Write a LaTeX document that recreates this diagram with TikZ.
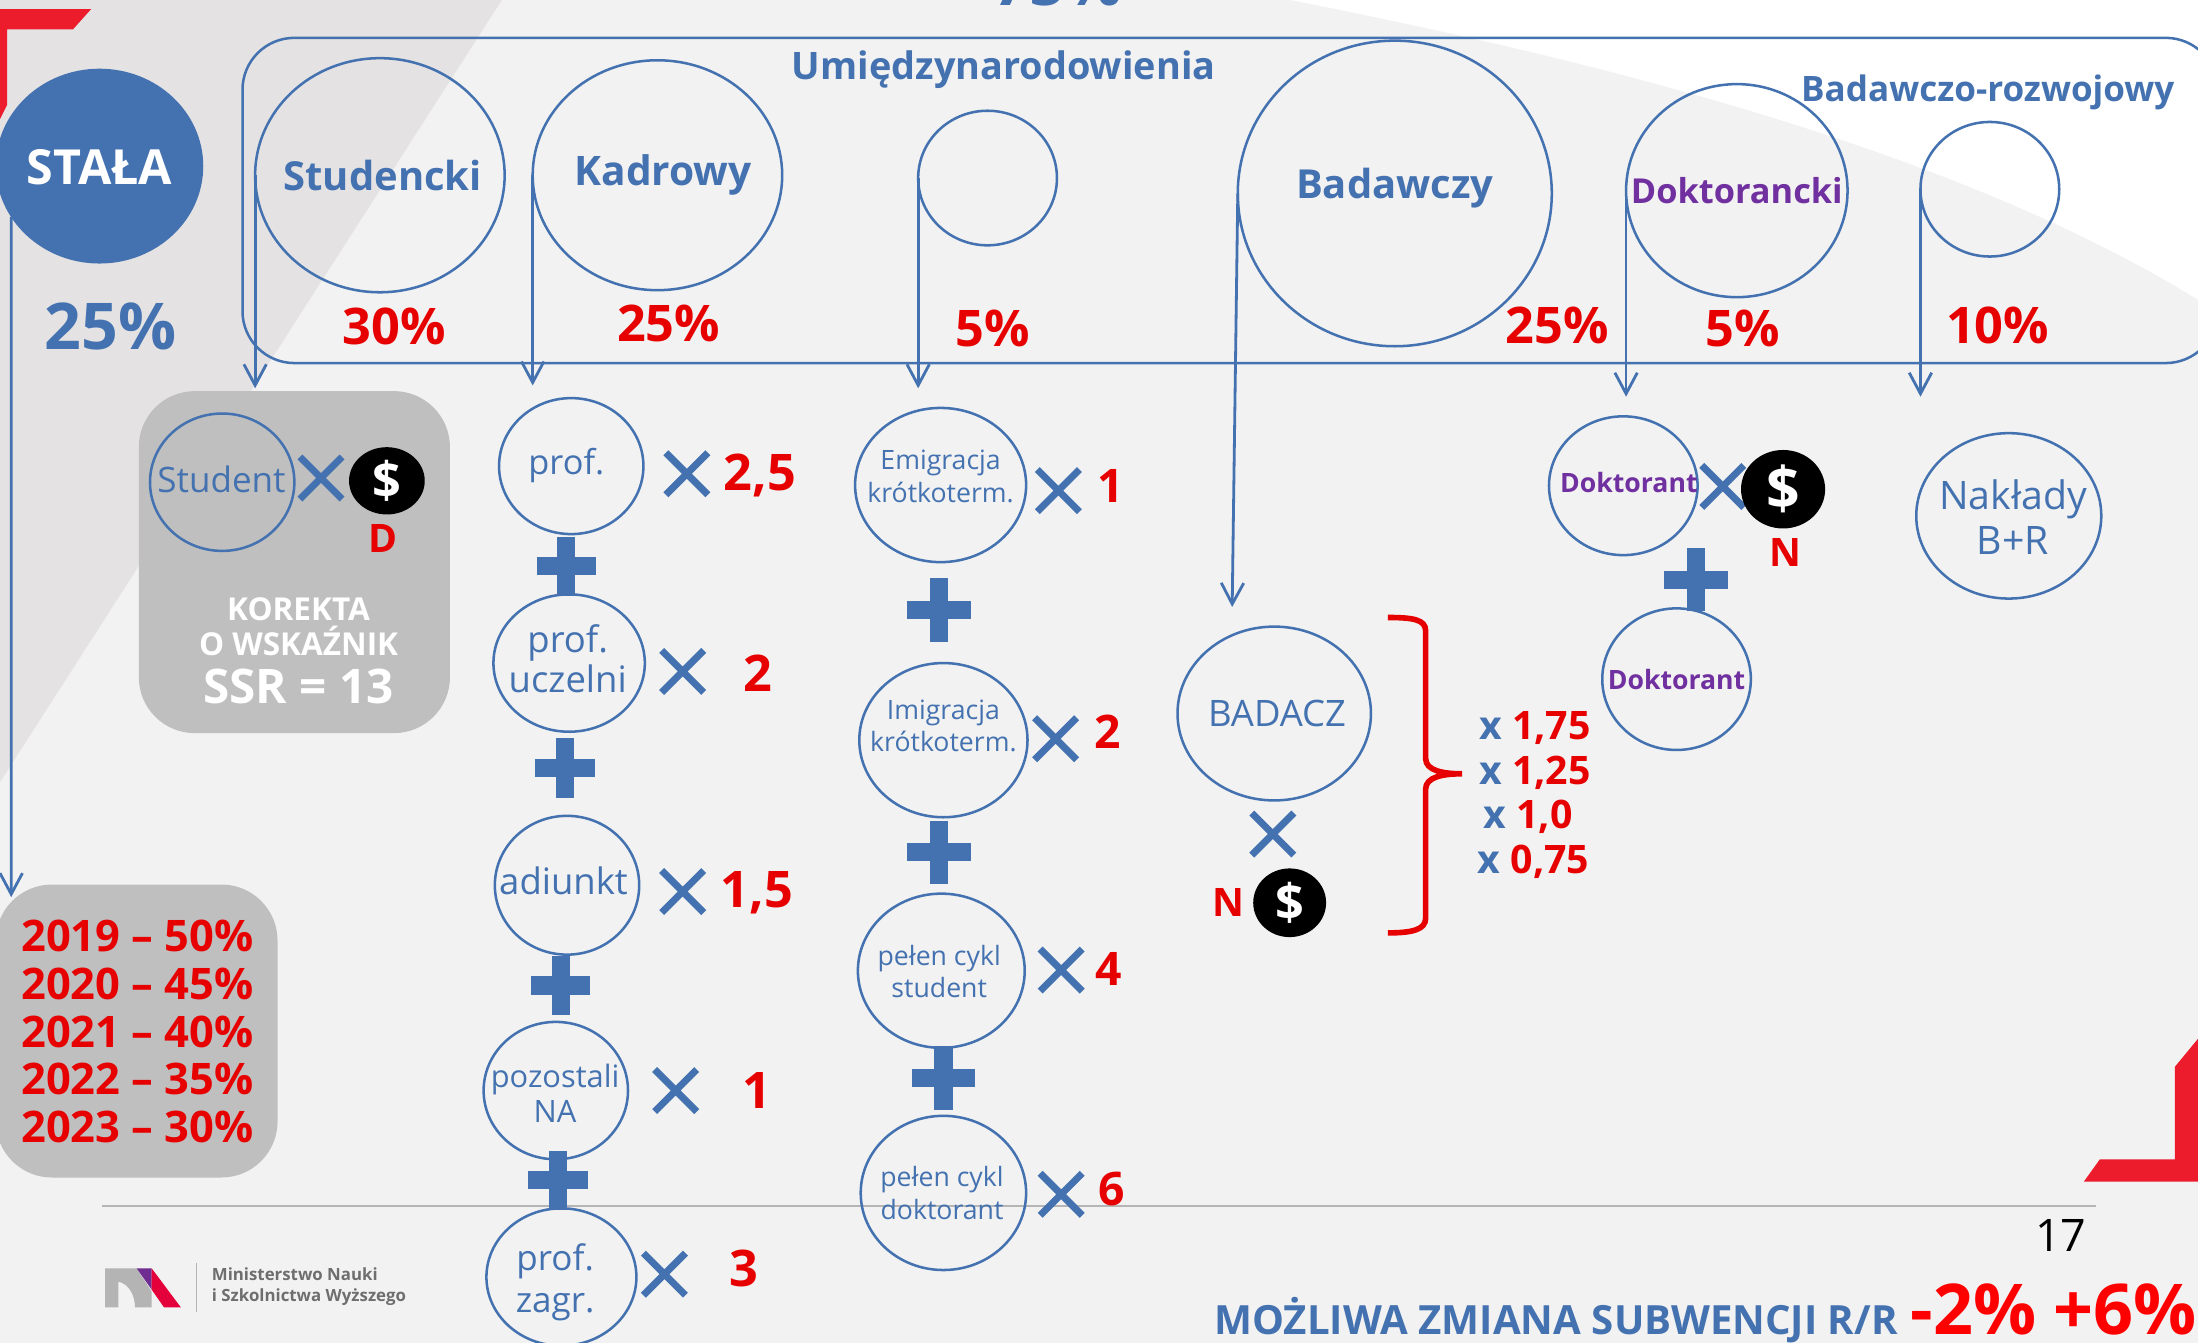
\documentclass[tikz,border=0pt]{standalone}
\usepackage{fontspec}
\setmainfont{Open Sans}
\usetikzlibrary{arrows.meta,shapes.geometric,shapes.misc}
\definecolor{brandblue}{HTML}{4472B0}
\definecolor{brandpurple}{HTML}{7030A0}
\definecolor{markred}{HTML}{E60000}
\definecolor{cornerred}{HTML}{EC1C2C}
\definecolor{pagegrey}{HTML}{F2F2F2}
\definecolor{bandgrey}{HTML}{E4E2E3}
\definecolor{boxgrey}{HTML}{BFBFBF}
\definecolor{rulegrey}{HTML}{B5B5B5}
\definecolor{logogrey}{HTML}{B4B4B4}
\definecolor{logotext}{HTML}{6E6E6E}
\definecolor{logopurple}{HTML}{6F2C91}
\definecolor{logored}{HTML}{E4003A}

\begin{document}
\begin{tikzpicture}[x=1pt,y=-1pt]
  % Styles
  \tikzset{
    ring/.style={draw=brandblue, line width=1.8pt, ellipse, inner sep=0pt, outer sep=0pt},
    framebox/.style={draw=brandblue, line width=1.8pt, rounded corners=37pt},
    greybox/.style={fill=boxgrey, rounded corners=40pt},
    coin/.style={ellipse, fill=black, text=white, inner sep=0pt, font=\fontsize{#1}{#1}\selectfont\bfseries},
    thintext/.style={text=brandblue, align=center, inner sep=0pt, font=\fontsize{#1}{#1}\selectfont},
    head/.style={text=brandblue, align=center, inner sep=0pt, font=\fontsize{#1}{#1}\selectfont\bfseries},
    redtext/.style={text=markred, align=center, inner sep=0pt, font=\fontsize{#1}{#1}\selectfont\bfseries},
    purpletext/.style={text=brandpurple, inner sep=0pt, font=\fontsize{#1}{#1}\selectfont\bfseries},
    whitetext/.style={text=white, align=center, inner sep=0pt, font=\fontsize{#1}{#1}\selectfont\bfseries},
    timesmark/.style={cross out, draw=brandblue, line width=5pt, minimum size=30pt, inner sep=0pt, outer sep=0pt},
    plusmark/.style={cross out, rotate=45, draw=brandblue, line width=13pt, minimum size=30pt, inner sep=0pt, outer sep=0pt},
    line/.style={-{Straight Barb[length=15pt,width=16pt]}, line width=2pt, draw=brandblue},
  }
  \useasboundingbox (0,0) rectangle (1568,958);

  % Background
  \fill[white] (0,0) rectangle (1568,958);
  \fill[pagegrey] (0,0) -- (920,0) .. controls (1150,45) and (1400,110) .. (1568,214) -- (1568,958) -- (0,958) -- cycle;
  \fill[bandgrey] (0,0) -- (358,0) -- (0,558) -- cycle;
  \fill[cornerred] (0,6.5) -- (65,6.5) -- (52,21) -- (5,21) -- (5,75) -- (0,85) -- cycle;
  \fill[cornerred] (1568,741) -- (1551.5,761) -- (1551.5,827) -- (1498,827) -- (1486.5,843) -- (1568,843) -- cycle;
  \draw[rulegrey, line width=1.5pt] (73,860.5) -- (1495,860.5);

  % Logo
  \fill[logogrey] (75,904.8) -- (97.5,904.8) -- (108.2,921.4) -- (108.2,932.6) -- (96.3,932.6) .. controls (96.3,924) and (92,916) .. (84.5,914.3) -- (84.5,932.6) -- (75,932.6) -- cycle;
  \fill[logopurple] (97.5,904.8) -- (108.2,904.8) -- (108.2,920) -- cycle;
  \fill[logored] (108.2,904.8) -- (129,932.6) -- (117,932.6) -- (108.2,920) -- cycle;
  \draw[logogrey, line width=0.7pt] (140,901) -- (140,936);
  \node[anchor=west, inner sep=0pt, align=left, text=logotext, font=\fontsize{12}{15}\selectfont\bfseries] (ministry) at (151,917.5) {Ministerstwo Nauki\\i Szkolnictwa Wyższego};

  % Top row
  \node[framebox, minimum width=1409pt, minimum height=232pt] (frame) at (877.5,143) {};
  \node[head=45, anchor=base] (total) at (755,4) {75\%};
  \node[ellipse, fill=brandblue, minimum width=148pt, minimum height=139pt, inner sep=0pt, outer sep=0pt] (stala) at (71,118.5) {};
  \node[whitetext=34.5] (stalatxt) at (71,119) {STAŁA};
  \node[head=46] (stalapct) at (79,233) {25\%};
  \node[ring, minimum width=178pt, minimum height=167pt] (stud) at (271,125) {};
  \node[ring, minimum width=178pt, minimum height=164pt] (kad) at (469,125) {};
  \node[ring, minimum width=99pt, minimum height=96pt] (intl) at (704.5,127) {};
  \node[ring, minimum width=224pt, minimum height=218pt] (bad) at (995,138) {};
  \node[ring, minimum width=158pt, minimum height=152pt] (dokt) at (1239,136) {};
  \node[ring, minimum width=99pt, minimum height=96pt] (rnd) at (1419.5,135) {};
  \node[head=28.5] (studtxt) at (273,125) {Studencki};
  \node[head=29] (kadtxt) at (473,125) {Kadrowy};
  \node[head=28.5] (badtxt) at (995,134) {Badawczy};
  \node[purpletext=24.5] (dokttxt) at (1239,136) {Doktorancki};
  \node[head=27] (intltxt) at (716,50) {Umiędzynarodowienia};
  \node[head=25] (rndtxt) at (1418,66) {Badawczo-rozwojowy};
  \node[redtext=36] (pctstud) at (281,233) {30\%};
  \node[redtext=36] (pctkad) at (477,231) {25\%};
  \node[redtext=36] (pctintl) at (708,234) {5\%};
  \node[redtext=36] (pctbad) at (1111,232) {25\%};
  \node[redtext=36] (pctdokt) at (1243,234) {5\%};
  \node[redtext=36] (pctrnd) at (1425,232) {10\%};

  % Student box
  \node[greybox, minimum width=222pt, minimum height=244pt] (korekta) at (210,401) {};
  \node[ring, minimum width=103pt, minimum height=98pt] (student) at (158.5,344) {};
  \node[thintext=25] (studenttxt) at (158,342) {Student};
  \node[timesmark] (xstudent) at (229,341) {};
  \node[coin=36, minimum width=54pt, minimum height=48pt] (coind) at (276,343) {\$};
  \node[redtext=28] (letterd) at (273,384) {D};
  \node[whitetext=22.5] (korektatxt) at (213,447) {KOREKTA\\[2.5pt]O WSKAŹNIK};
  \node[whitetext=34] (ssr) at (213,490) {SSR = 13};

  % Years box
  \node[greybox, minimum width=201pt, minimum height=209pt] (years) at (97.5,735.5) {};
  \node[redtext=31, anchor=west, align=left] (yearstxt) at (15,736) {2019 – 50\%\\[3pt]2020 – 45\%\\[3pt]2021 – 40\%\\[3pt]2022 – 35\%\\[3pt]2023 – 30\%};

  % Staff column
  \node[ring, minimum width=103pt, minimum height=97pt] (prof) at (407.5,332.5) {};
  \node[ring, minimum width=108pt, minimum height=98pt] (profu) at (406,473) {};
  \node[ring, minimum width=103pt, minimum height=99pt] (adi) at (404.5,631.5) {};
  \node[ring, minimum width=103pt, minimum height=98pt] (rest) at (396.5,778) {};
  \node[ring, minimum width=107pt, minimum height=98pt] (profz) at (400.5,911) {};
  \node[thintext=24.5] (proftxt) at (404,332) {prof.};
  \node[thintext=26] (profutxt) at (405,470) {prof.\\[2pt]uczelni};
  \node[thintext=26] (aditxt) at (402,628) {adiunkt};
  \node[thintext=22] (resttxt) at (396,780) {pozostali\\[3pt]NA};
  \node[thintext=25] (profztxt) at (396,915) {prof.\\[5pt]zagr.};
  \node[plusmark] (plus1) at (404,404) {};
  \node[plusmark] (plus2) at (403,548) {};
  \node[plusmark] (plus3) at (400,703) {};
  \node[plusmark] (plus4) at (398,842) {};
  \node[timesmark] (xprof) at (490,338) {};
  \node[timesmark] (xprofu) at (487,479) {};
  \node[timesmark] (xadi) at (487,636) {};
  \node[timesmark] (xrest) at (482,778) {};
  \node[timesmark] (xprofz) at (474,909) {};
  \node[redtext=36] (wprof) at (542,339) {2,5};
  \node[redtext=36] (wprofu) at (541,480) {2};
  \node[redtext=36] (wadi) at (540,637) {1,5};
  \node[redtext=36] (wrest) at (540,778) {1};
  \node[redtext=36] (wprofz) at (531,905) {3};

  % Exchange column
  \node[ring, minimum width=122pt, minimum height=110pt] (emig) at (671,346) {};
  \node[ring, minimum width=120pt, minimum height=110pt] (imig) at (673,528) {};
  \node[ring, minimum width=119pt, minimum height=110pt] (cyclestud) at (671.5,692.5) {};
  \node[ring, minimum width=118pt, minimum height=110pt] (cycledok) at (673,851) {};
  \node[thintext=19] (emigtxt) at (671,340) {Emigracja\\[3.5pt]krótkoterm.};
  \node[thintext=19] (imigtxt) at (673,518) {Imigracja\\[3pt]krótkoterm.};
  \node[thintext=19] (cyclestudtxt) at (670,693) {pełen cykl\\[4pt]student};
  \node[thintext=19] (cycledoktxt) at (672,851) {pełen cykl\\[4pt]doktorant};
  \node[plusmark, minimum size=32pt] (plus5) at (670,435) {};
  \node[plusmark, minimum size=32pt] (plus6) at (670,608) {};
  \node[plusmark, minimum size=32pt] (plus7) at (673,769) {};
  \node[timesmark] (xemig) at (755,350) {};
  \node[timesmark] (ximig) at (753,527) {};
  \node[timesmark] (xcyclestud) at (757,692) {};
  \node[timesmark] (xcycledok) at (757,852) {};
  \node[redtext=33] (wemig) at (792,347) {1};
  \node[redtext=33] (wimig) at (790,522) {2};
  \node[redtext=33] (wcyclestud) at (791,691) {4};
  \node[redtext=33] (wcycledok) at (793,848) {6};

  % Researcher
  \node[ring, minimum width=138pt, minimum height=124pt] (badacz) at (909,509) {};
  \node[thintext=26] (badacztxt) at (911,509) {BADACZ};
  \node[timesmark] (xbadacz) at (908,595) {};
  \node[coin=36, minimum width=52pt, minimum height=49pt] (coinn) at (920,644) {\$};
  \node[redtext=28] (lettern) at (876,644) {N};
  \draw[markred, line width=4pt] (990,440.5) .. controls (1008,440.5) and (1017,442) .. (1017,450) -- (1017,541) .. controls (1017,550) and (1030,552) .. (1043,552) .. controls (1030,552) and (1017,554) .. (1017,563) -- (1017,655) .. controls (1017,663) and (1008,665.5) .. (990,665.5);
  \node[redtext=28] (m1) at (1095,519) {{\color{brandblue}x} 1,75};
  \node[redtext=28] (m2) at (1095,551) {{\color{brandblue}x} 1,25};
  \node[redtext=28] (m3) at (1090,583) {{\color{brandblue}x} 1,0};
  \node[redtext=28] (m4) at (1094,615) {{\color{brandblue}x} 0,75};

  % Doctoral students
  \node[ring, minimum width=106pt, minimum height=99pt] (dok1) at (1158,346.5) {};
  \node[ring, minimum width=106pt, minimum height=101pt] (dok2) at (1196,484.5) {};
  \node[purpletext=19] (dok1txt) at (1162,344) {Doktorant};
  \node[purpletext=19] (dok2txt) at (1196,485) {Doktorant};
  \node[timesmark] (xdok) at (1229,347) {};
  \node[coin=42, minimum width=60pt, minimum height=56pt] (coindok) at (1272,349) {\$};
  \node[redtext=28] (letterdok) at (1274,394) {N};
  \node[plusmark, minimum size=32pt] (plus8) at (1210,413.5) {};

  % Expenditure
  \node[ring, minimum width=132pt, minimum height=118pt] (naklady) at (1433,368) {};
  \node[thintext=28] (nakladytxt) at (1436,369) {Nakłady\\[4pt]B+R};

  % Footer texts
  \node[anchor=base, inner sep=0pt, font=\fontsize{32}{32}\selectfont] (pageno) at (1470,893) {17};
  \node[head=28.7, anchor=base west] (change) at (866,952) {MOŻLIWA ZMIANA SUBWENCJI R/R};
  \node[redtext=50, text=red, anchor=base west] (rangelow) at (1363,952) {-2\%};
  \node[redtext=50, text=red, anchor=base east] (rangehigh) at (1567.5,952) {+6\%};

  % Links
  \coordinate (studend) at (182,277);
  \coordinate (kadend) at (380,275);
  \coordinate (intlend) at (655,277);
  \coordinate (badend) at (879,433);
  \coordinate (doktend) at (1160,283);
  \coordinate (rndend) at (1370,283);
  \coordinate (stalaend) at (8,640);
  \draw[line] (stala.210) -- (stalaend);
  \draw[line] (stud.west) -- (studend);
  \draw[line] (kad.west) -- (kadend);
  \draw[line] (intl.west) -- (intlend);
  \draw[line] (bad.west) -- (badend);
  \draw[line] (dokt.west) -- (doktend);
  \draw[line] (rnd.west) -- (rndend);
\end{tikzpicture}
\end{document}
